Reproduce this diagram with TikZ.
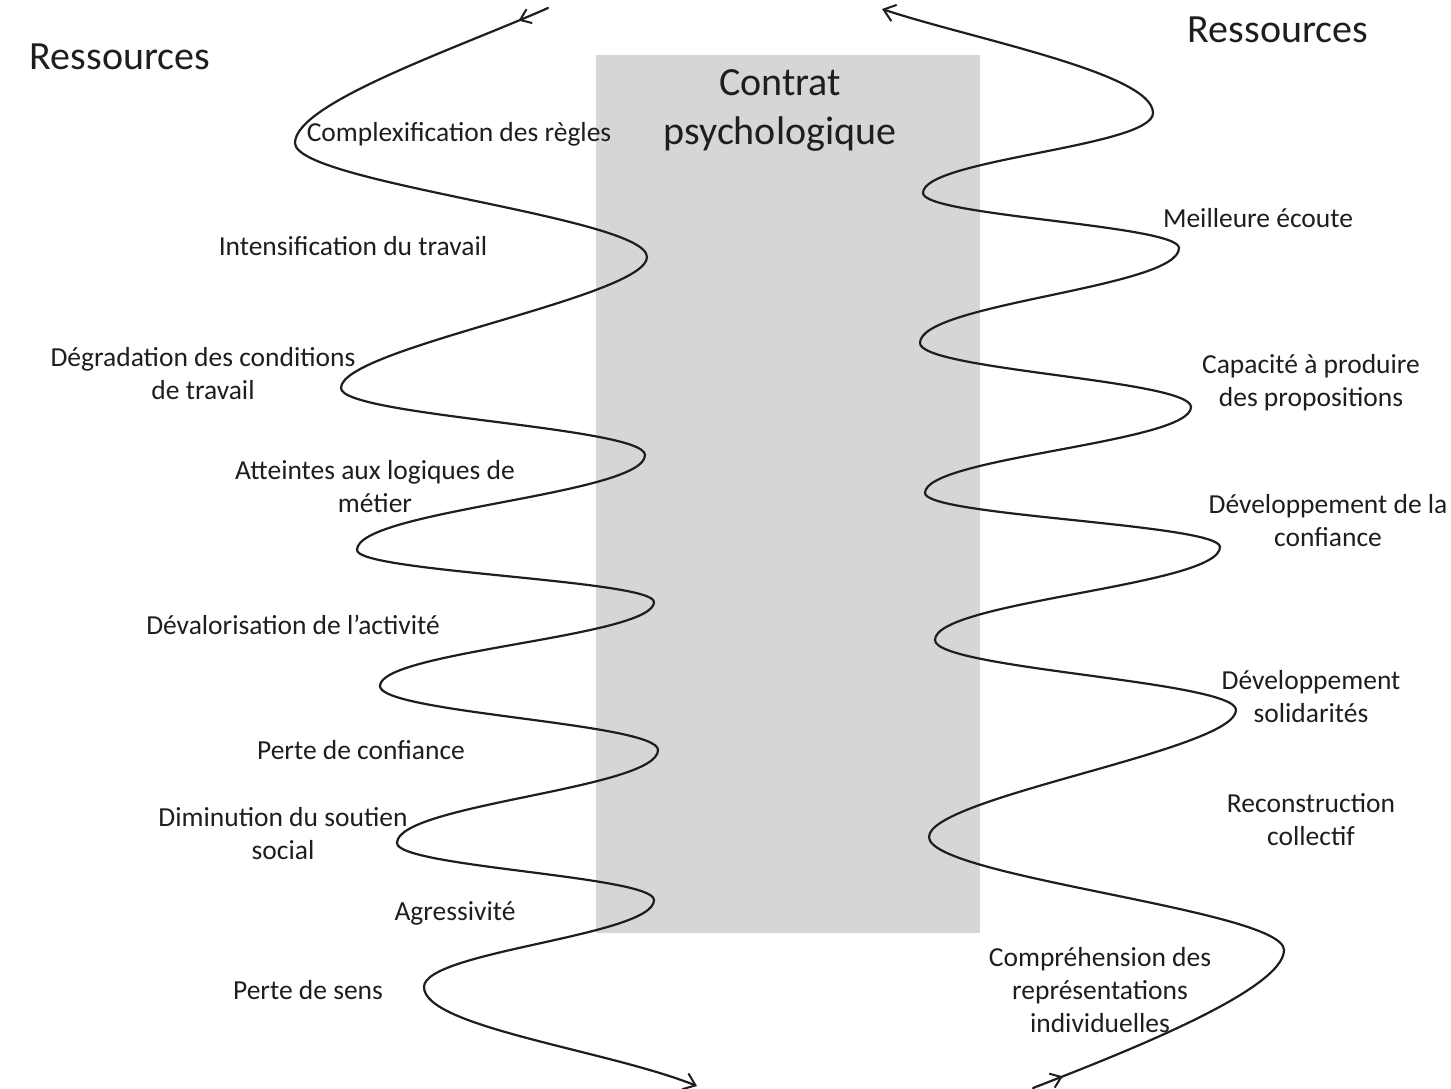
\documentclass[tikz,border=0pt]{standalone}
\usepackage{fontspec}
\setmainfont{Carlito}
\usetikzlibrary{arrows.meta,decorations.markings}
\definecolor{boxgray}{RGB}{214,214,214}
\definecolor{ink}{RGB}{30,30,30}
\begin{document}
\begin{tikzpicture}[x=1pt,y=-1pt,
  lbl/.style={anchor=base,inner sep=0pt,text=ink,font=\fontsize{27.5}{33}\selectfont,align=center},
  big/.style={anchor=base,inner sep=0pt,text=ink,font=\fontsize{40}{49}\selectfont,align=center},
  wave/.style={draw=ink,line width=2.2pt,line cap=round,line join=round,
    -{Straight Barb[length=11pt,width=17pt,line width=2pt]}},
  startarrow/.style={postaction={decorate},decoration={markings,
    mark=at position 32pt with {\arrow{Straight Barb[length=10pt,width=15pt,line width=2pt]}}}}
]
\useasboundingbox (0,0) rectangle (1451,1088);
\fill[white] (0,0) rectangle (1451,1088);

% contract box
\node (contrat) [fill=boxgray,inner sep=0pt,minimum width=384pt,minimum height=878pt,anchor=north west] at (596,55) {};

% left wave (flows downward)
\draw[wave,startarrow] (548,8) .. controls (458,48) and (295,103) .. (295,143)
  .. controls (295,183) and (647,217) .. (647,257)
  .. controls (647,297) and (341,348) .. (341,388)
  .. controls (341,416) and (645,427) .. (645,455)
  .. controls (645,495) and (357,510) .. (357,550)
  .. controls (357,572) and (654,580) .. (654,602)
  .. controls (654,637) and (380,651) .. (380,686)
  .. controls (380,713) and (658,723) .. (658,750)
  .. controls (658,789) and (397,804) .. (397,843)
  .. controls (397,867) and (654,876) .. (654,900)
  .. controls (654,936) and (424,951) .. (424,987)
  .. controls (424,1027) and (607,1050) .. (697,1086);

% right wave (flows upward)
\draw[wave,startarrow] (1033,1088) .. controls (1123,1053) and (1284,990) .. (1284,950)
  .. controls (1284,910) and (929,877) .. (929,837)
  .. controls (929,797) and (1236,750) .. (1236,710)
  .. controls (1236,681) and (935,669) .. (935,640)
  .. controls (935,601) and (1220,586) .. (1220,547)
  .. controls (1220,524) and (925,516) .. (925,493)
  .. controls (925,457) and (1191,443) .. (1191,407)
  .. controls (1191,380) and (920,370) .. (920,343)
  .. controls (920,303) and (1179,288) .. (1179,248)
  .. controls (1179,225) and (923,216) .. (923,193)
  .. controls (923,159) and (1153,147) .. (1153,113)
  .. controls (1153,73) and (972,39) .. (882,9);

% headings (anchor base = baseline of last line)
\node (resL) [big] at (120,69) {Ressources};
\node (resR) [big] at (1278,42) {Ressources};
\node (contratT) [big] at (780,144) {Contrat\\psychologique};

% left labels
\node (l1) [lbl] at (459,141) {Complexification des règles};
\node (l2) [lbl] at (353,255) {Intensification du travail};
\node (l3) [lbl] at (203,399) {Dégradation des conditions\\de travail};
\node (l4) [lbl] at (375,512) {Atteintes aux logiques de\\métier};
\node (l5) [lbl] at (293,634) {Dévalorisation de l’activité};
\node (l6) [lbl] at (361,759) {Perte de confiance};
\node (l7) [lbl] at (283,859) {Diminution du soutien\\social};
\node (l8) [lbl] at (455,920) {Agressivité};
\node (l9) [lbl] at (308,999) {Perte de sens};

% right labels
\node (r1) [lbl] at (1258,227) {Meilleure écoute};
\node (r2) [lbl] at (1311,406) {Capacité à produire\\des propositions};
\node (r3) [lbl] at (1328,546) {Développement de la\\confiance};
\node (r4) [lbl] at (1311,722) {Développement\\solidarités};
\node (r5) [lbl] at (1311,845) {Reconstruction\\collectif};
\node (r6) [lbl] at (1100,1032) {Compréhension des\\représentations\\individuelles};
\end{tikzpicture}
\end{document}
